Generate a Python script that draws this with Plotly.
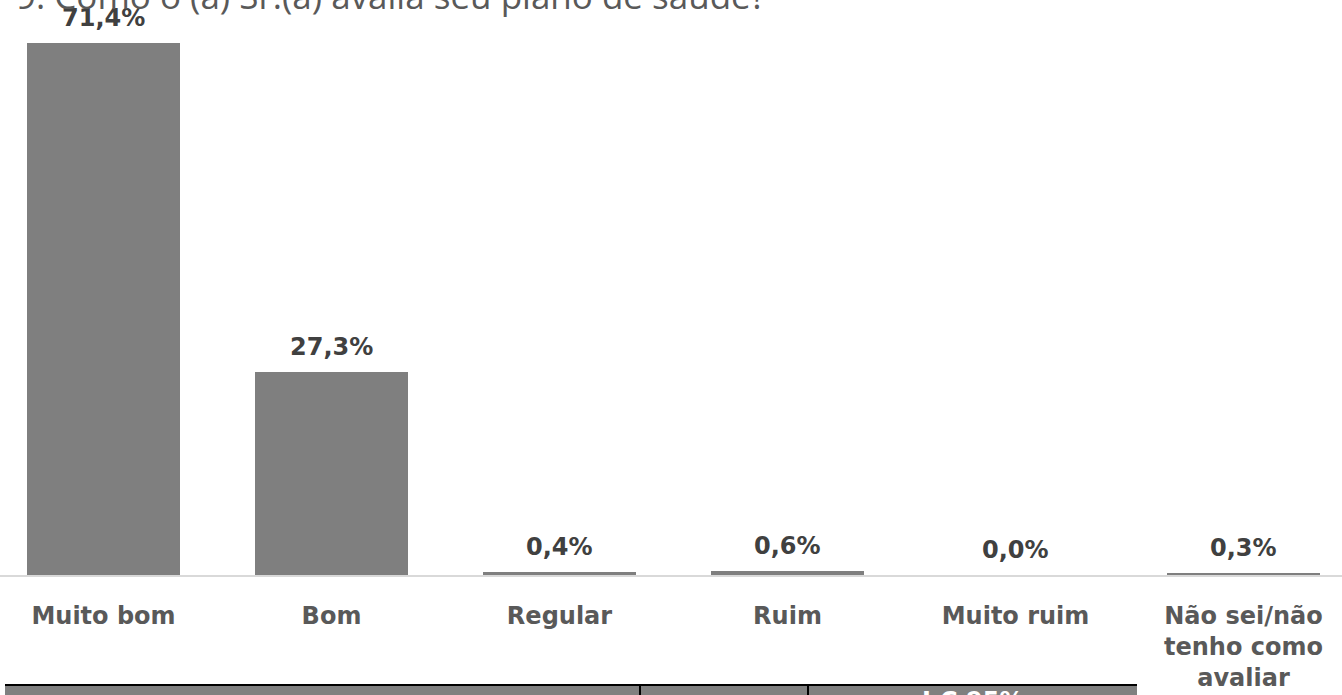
import plotly.graph_objects as go

# Survey answers and their shares (%)
categories = ["Muito bom", "Bom", "Regular", "Ruim", "Muito ruim", "Não sei/não<br>tenho como<br>avaliar"]
shares = [71.4, 27.3, 0.4, 0.6, 0.0, 0.3]
value_labels = ["71,4%", "27,3%", "0,4%", "0,6%", "0,0%", "0,3%"]
title_text = "9. Como o (a) Sr.(a) avalia seu plano de saúde?"
table_header = ["", "", "I.C 95%"]

W, H = 1342, 695
plot_bottom_px = 575  # baseline of the bars, measured from the top

fig = go.Figure()
fig.add_trace(go.Bar(
    x=list(range(len(categories))),
    y=shares,
    width=0.667,
    marker=dict(color="#7f7f7f", line=dict(width=0)),
    hoverinfo="skip",
))

# Value labels above each bar
for i, (v, lab) in enumerate(zip(shares, value_labels)):
    fig.add_annotation(
        x=i, y=v, text=f"<b>{lab}</b>", showarrow=False,
        xanchor="center", yanchor="bottom", yshift=9,
        font=dict(family="DejaVu Sans", size=24, color="#404040"),
    )

# Title line at the top (partly outside the page)
fig.add_annotation(
    xref="paper", yref="paper", x=14 / W, y=1 - 21 / plot_bottom_px,
    text=title_text, showarrow=False, xanchor="left", yanchor="bottom",
    font=dict(family="Open Sans", size=35, color="#595959"),
)

# Header row of the table below the chart
def py(px):
    return 1 - px / plot_bottom_px

cells = [(5, 640), (640, 808), (808, 1137)]
for (x0, x1), txt in zip(cells, table_header):
    fig.add_shape(type="rect", xref="paper", yref="paper",
                  x0=x0 / W, x1=x1 / W, y0=py(685), y1=py(720),
                  fillcolor="#808080", line=dict(width=0), layer="above")
    if txt:
        fig.add_annotation(xref="paper", yref="paper", x=(x0 + x1) / 2 / W, y=py(685),
                           text=f"<b>{txt}</b>", showarrow=False,
                           xanchor="center", yanchor="top",
                           font=dict(family="DejaVu Sans", size=24, color="#ffffff"))
fig.add_shape(type="line", xref="paper", yref="paper",
              x0=5 / W, x1=1137 / W, y0=py(685), y1=py(685),
              line=dict(color="#000000", width=2), layer="above")
for xv in (640, 808):
    fig.add_shape(type="line", xref="paper", yref="paper",
                  x0=xv / W, x1=xv / W, y0=py(685), y1=py(720),
                  line=dict(color="#000000", width=2), layer="above")

px_per_unit = 532 / 71.4
fig.update_layout(
    width=W, height=H,
    margin=dict(l=0, r=0, t=0, b=H - plot_bottom_px, pad=0),
    paper_bgcolor="white", plot_bgcolor="white",
    showlegend=False,
    bargap=0,
    xaxis=dict(
        range=[-0.454, 5.432],
        tickmode="array",
        tickvals=list(range(len(categories))),
        ticktext=categories,
        tickfont=dict(family="DejaVu Sans", size=24, color="#595959", weight="bold"),
        ticks="",
        ticklabelstandoff=18,
        showline=True, linecolor="#d9d9d9", linewidth=2,
        showgrid=False, zeroline=False, fixedrange=True,
    ),
    yaxis=dict(
        range=[0, plot_bottom_px / px_per_unit],
        visible=False, showgrid=False, zeroline=False, fixedrange=True,
    ),
)

fig.write_html("out.html", config={"displayModeBar": False})
